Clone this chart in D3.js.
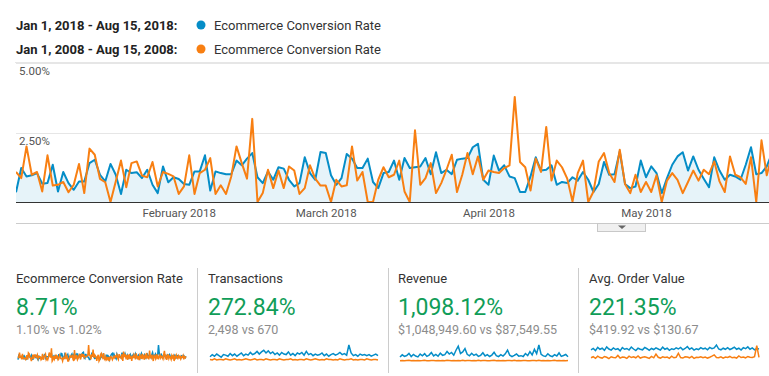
<!DOCTYPE html>
<html>
<head>
<meta charset="utf-8">
<script src="https://cdn.jsdelivr.net/npm/d3@7"></script>
<style>
body { margin: 0; background: #fff; font-family: Roboto, Arial, sans-serif; }
</style>
</head>
<body>
<svg id="chart" width="769" height="376"></svg>
<script>
// daily ecommerce conversion rate (%), Jan 1 2018 onward (visible part of the chart)
var convThisYear = [0.35,1.22,0.92,0.96,1.04,0.66,0.68,1.34,0.38,1.08,0.68,0.44,0.74,0.74,1.40,1.52,0.98,0.74,1.37,0.98,
  0.29,1.16,1.04,1.07,0.86,1.16,0.62,0.32,1.28,0.71,0.89,0.83,0.65,0.62,1.10,1.10,1.68,
  0.41,1.10,1.04,1.00,1.00,1.49,1.32,1.56,1.76,0.89,0.68,1.10,0.80,1.25,1.20,0.80,0.56,0.68,1.61,1.04,0.80,1.80,1.76,
  0.96,0.62,0.86,1.73,1.56,1.22,1.22,1.56,0.72,0.50,1.04,1.08,1.49,
  0.80,1.58,1.22,1.25,1.28,1.58,1.00,1.79,1.04,1.16,1.00,1.52,1.56,1.58,1.97,2.09,0.80,0.62,1.67,1.13,1.32,0.92,0.86,
  0.36,0.36,0.92,1.61,1.13,1.16,1.32,0.62,0.72,0.68,0.89,0.77,1.08,
  0.80,0.36,0.65,1.44,0.98,1.00,1.82,0.65,0.50,0.56,1.49,0.89,1.28,1.04,0.32,0.86,1.34,1.64,1.79,1.13,1.64,1.16,0.84,
  0.53,1.61,1.13,0.80,0.98,0.92,0.80,1.34,1.97,1.00,1.04,1.28,1.76];
var convLastYear = [1.08,0.86,2.00,0.98,1.08,0.38,1.68,0.59,0.62,0.72,0.35,0.62,1.37,0.32,1.92,1.70,0.83,0.71,0.00,0.74,
  1.49,0.53,1.40,1.46,0.95,0.89,1.44,0.56,1.08,1.01,0.92,0.29,0.56,1.68,0.29,1.04,1.16,
  1.58,0.29,0.60,0.29,0.92,2.00,1.40,0.84,2.99,0.00,0.32,1.16,0.50,1.13,0.50,1.28,1.13,0.29,0.50,1.32,0.84,0.59,0.59,
  0.00,0.80,0.56,0.60,2.00,0.77,1.08,0.00,0.00,0.80,1.25,0.89,0.98,
  1.49,0.38,0.00,2.58,0.62,0.86,1.40,0.32,0.68,1.16,1.70,0.36,0.98,1.76,1.00,1.64,0.80,1.13,1.08,1.04,1.22,1.32,3.78,
  1.44,1.25,0.41,1.56,1.08,2.70,0.77,1.49,1.25,0.84,0.02,1.04,1.49,
  0.00,0.38,1.46,1.76,1.04,0.72,1.88,0.65,0.32,0.98,0.36,0.72,0.36,0.96,0.00,0.77,1.04,0.80,0.32,0.72,1.13,0.77,1.16,
  1.00,1.46,0.74,0.36,1.64,0.98,0.89,0.65,1.61,0.00,2.22,0.96,1.70];
// rest of the period (for the scorecard sparkline)
var convThisYearRest = [1.2,0.9,1.4,1.0,0.7,1.3,1.6,1.1,0.8,1.2,1.5,0.9,1.0,1.7,1.2,0.8,1.1,1.4,1.0,0.6,
  1.3,1.8,1.2,0.9,1.1,1.5,1.0,0.7,1.2,1.6,1.3,0.9,1.4,1.1,0.8,1.5,2.0,1.2,1.0,1.4,
  1.7,1.1,0.9,1.6,3.8,1.9,1.2,1.0,1.5,1.1,0.8,1.3,1.6,1.0,0.9,1.2,1.4,0.8,1.1,1.5,
  1.0,0.7,1.3,1.2,0.9,1.1,1.4,1.0,0.8,1.2,1.3,0.9,1.1,1.0,0.7,1.2,1.1,0.9,1.3,1.0,0.8,1.1];
var convLastYearRest = [0.9,1.4,0.3,1.2,0.8,1.6,0.5,1.1,0.0,1.3,0.7,1.5,1.0,0.4,1.8,0.9,0.6,1.2,0.2,1.4,
  1.0,0.5,1.7,0.8,1.1,0.3,1.3,0.9,1.9,0.6,1.2,0.4,2.5,1.0,0.7,1.5,0.9,0.0,1.3,1.1,
  0.6,1.6,0.8,1.2,0.4,1.0,1.4,0.7,1.1,0.9,0.5,1.5,2.4,0.8,1.2,0.3,1.0,1.6,0.6,1.1,
  0.9,0.4,1.3,0.8,1.2,0.0,1.0,0.7,1.4,0.9,0.6,1.2,0.8,1.1,0.5,1.0,0.9,1.3,0.4,1.0,0.8,1.1];

// sparkline series, sampled every 3 days
var transThisYear = [8,12,9,13,10,7,12,11,9,14, 10,13,9,12,15,10,13,11,16,12,
  14,18,13,17,20,15,19,14,17,12, 15,11,16,13,12,17,11,14,10,15,
  13,16,11,18,12,14,10,13,11,12, 15,10,13,9,12,14,11,13,16,12,
  14,11,30,15,10,12,9,13,11,12, 10,12,9,11,13,10];
var transLastYear = [3,2,4,2,3,3,2,4,3,2, 3,4,2,3,2,3,4,3,2,3,
  4,2,3,3,2,4,3,2,3,3, 2,4,3,2,3,3,4,2,3,2,
  3,3,2,4,3,2,3,4,3,2, 3,2,4,3,3,2,3,2,4,3,
  2,3,3,4,2,3,2,3,3,2, 4,3,2,3,3,2];
var revThisYear = [3.4,5.2,3.9,4.6,6.4,3.8,5.6,4.2,3.5,5.8, 4.4,6.2,3.9,5.0,7.1,4.3,5.6,4.0,6.6,4.8,
  5.4,8.0,5.9,7.2,4.9,9.1,12.5,6.3,7.7,10.4, 5.6,4.4,6.5,4.7,5.8,3.9,4.8,6.9,4.2,5.3,
  3.8,5.0,7.4,4.5,3.7,5.4,4.1,6.0,9.2,4.9, 3.6,4.7,5.9,4.1,4.5,3.8,6.3,4.6,7.9,5.1,
  9.8,6.2,13.5,5.6,4.3,3.9,6.1,4.4,3.7,5.3, 4.2,6.8,3.9,4.6,5.5,3.6];
var revLastYear = [0.3,0.5,0.2,0.4,0.6,0.3,0.4,0.2,0.5,0.3, 0.4,0.6,0.3,0.2,0.5,0.4,0.3,0.5,0.2,0.4,
  0.3,0.6,0.4,0.2,0.5,0.3,0.4,0.3,0.6,0.2, 0.4,0.5,0.3,0.4,0.2,0.6,0.3,0.4,0.5,0.3,
  0.2,0.4,0.6,0.3,0.5,0.3,0.4,0.2,0.5,0.4, 0.3,0.6,0.2,0.4,0.3,0.5,0.4,0.3,0.2,0.5,
  0.4,0.3,0.6,0.3,0.4,0.2,0.5,0.3,0.4,0.6, 0.3,0.4,0.2,0.5,0.3,0.4];
var aovThisYear = [420,470,390,510,440,480,400,530,450,410, 490,430,460,380,500,440,470,410,520,450,
  390,480,440,420,510,460,400,470,430,490, 450,410,520,440,480,400,460,430,490,450,
  510,420,470,540,440,490,410,460,430,500, 450,480,420,510,460,490,600,450,420,480,
  440,500,430,470,520,440,480,410,500,460, 530,440,490,420,470,450];
var aovLastYear = [120,160,100,180,130,110,170,140,90,160, 130,120,210,110,150,140,100,180,130,160,
  120,190,110,140,160,130,100,170,120,260, 140,110,160,130,150,100,180,120,140,290,
  130,110,160,150,120,170,100,140,130,160, 120,150,110,140,180,230,130,120,160,110,
  150,130,170,120,140,110,190,130,150,120, 170,140,130,160,580,140];

var rangeLabels = ["Jan 1, 2018 - Aug 15, 2018:", "Jan 1, 2008 - Aug 15, 2008:"];
var metricName = "Ecommerce Conversion Rate";
var yTicks = [2.5, 5];
var monthTicks = [new Date(2018,1,1), new Date(2018,2,1), new Date(2018,3,1), new Date(2018,4,1)];

var cardTitles = ["Ecommerce Conversion Rate", "Transactions", "Revenue", "Avg. Order Value"];
var cardChanges = ["8.71%", "272.84%", "1,098.12%", "221.35%"];
var cardCompare = ["1.10% vs 1.02%", "2,498 vs 670", "$1,048,949.60 vs $87,549.55", "$419.92 vs $130.67"];

var blue = "#058dc7", orange = "#f87f12";
var svg = d3.select("#chart");

// ---- legend ----
var leg = svg.selectAll("g.leg").data(rangeLabels).enter().append("g")
  .attr("transform", function(d, i) { return "translate(0," + (30 + i * 24) + ")"; });
leg.append("text").attr("x", 16).attr("y", 0).text(function(d) { return d; })
  .style("font-size", "13px").style("font-weight", "bold").attr("fill", "#222");
leg.append("circle").attr("cx", 201).attr("cy", -5).attr("r", 4.5)
  .attr("fill", function(d, i) { return i == 0 ? blue : orange; });
leg.append("text").attr("x", 214).attr("y", 0).text(metricName)
  .style("font-size", "13px").attr("fill", "#333");

// ---- main chart ----
var start = new Date(2018, 0, 1);
var toPoints = function(arr) {
  return arr.map(function(v, i) { return {date: d3.timeDay.offset(start, i), v: v}; });
};
var ptsA = toPoints(convThisYear), ptsB = toPoints(convLastYear);

var x = d3.scaleTime().domain([start, d3.timeDay.offset(start, 144)]).range([16, 16 + 144 * 5.25]);
var y = d3.scaleLinear().domain([0, 5]).range([202, 63]);

svg.append("clipPath").attr("id", "clip").append("rect")
  .attr("x", 16).attr("y", 0).attr("width", 753).attr("height", 230);

svg.append("line").attr("x1", 15).attr("x2", 769).attr("y1", 62.5).attr("y2", 62.5).attr("stroke", "#e6e6e6");
svg.selectAll("line.grid").data(yTicks).enter().append("line")
  .attr("x1", 16).attr("x2", 769)
  .attr("y1", function(d) { return Math.round(y(d)) + 0.5; })
  .attr("y2", function(d) { return Math.round(y(d)) + 0.5; })
  .attr("stroke", "#e6e6e6");
svg.selectAll("text.ylab").data(yTicks).enter().append("text")
  .attr("x", 19).attr("y", function(d) { return y(d) + 12; })
  .text(function(d) { return d3.format(".2f")(d) + "%"; })
  .style("font-size", "11.5px").attr("fill", "#555");

var plot = svg.append("g").attr("clip-path", "url(#clip)");
plot.append("path").datum(ptsA)
  .attr("d", d3.area().x(function(d) { return x(d.date); }).y0(y(0)).y1(function(d) { return y(d.v); }))
  .attr("fill", "#e6f3f9");
var line = d3.line().x(function(d) { return x(d.date); }).y(function(d) { return y(d.v); });
plot.append("path").datum(ptsA).attr("d", line)
  .attr("fill", "none").attr("stroke", blue).attr("stroke-width", 2).attr("stroke-linejoin", "round");
plot.append("path").datum(ptsB).attr("d", line)
  .attr("fill", "none").attr("stroke", orange).attr("stroke-width", 2).attr("stroke-linejoin", "round");

svg.append("line").attr("x1", 16).attr("x2", 769).attr("y1", 202.5).attr("y2", 202.5)
  .attr("stroke", "#333").attr("stroke-width", 1.2);

var xAxis = svg.append("g").attr("transform", "translate(0,202)")
  .call(d3.axisBottom(x).tickValues(monthTicks).tickFormat(d3.timeFormat("%B %Y")).tickSize(0).tickPadding(7));
xAxis.select(".domain").remove();
xAxis.selectAll("text").style("font-size", "11.5px").style("font-family", "Roboto, Arial, sans-serif").attr("fill", "#555");

svg.append("line").attr("x1", 16).attr("x2", 769).attr("y1", 223.5).attr("y2", 223.5).attr("stroke", "#ccc");
svg.append("rect").attr("x", 597.5).attr("y", 223.5).attr("width", 48).attr("height", 8)
  .attr("fill", "#f0f0f0").attr("stroke", "#c8c8c8");
svg.append("path").attr("d", "M618,225.5L626,225.5L622,229Z").attr("fill", "#666");

// ---- scorecards ----
var cardX = [16, 208, 398, 589];
var sparkData = [
  [convThisYear.concat(convThisYearRest), convLastYear.concat(convLastYearRest)],
  [transThisYear, transLastYear],
  [revThisYear, revLastYear],
  [aovThisYear, aovLastYear]
];

[197, 388, 578].forEach(function(dx) {
  svg.append("line").attr("x1", dx + 0.5).attr("x2", dx + 0.5).attr("y1", 268).attr("y2", 373).attr("stroke", "#ccc");
});

var cards = svg.selectAll("g.card").data(cardTitles).enter().append("g")
  .attr("transform", function(d, i) { return "translate(" + cardX[i] + ",0)"; });
cards.append("text").attr("y", 283).text(function(d) { return d; })
  .style("font-size", "13px").attr("fill", "#333");
cards.append("text").attr("y", 315).text(function(d, i) { return cardChanges[i]; })
  .style("font-size", "23px").attr("fill", "#109d58");
cards.append("text").attr("y", 334).text(function(d, i) { return cardCompare[i]; })
  .style("font-size", "12.5px").attr("fill", "#8c8c8c");

cards.each(function(d, i) {
  var series = sparkData[i];
  var n = series[0].length;
  var sx = d3.scaleLinear().domain([0, n - 1]).range([2, 170]);
  var sy = d3.scaleLinear().domain([0, d3.max(series[0].concat(series[1]))]).range([361, 345]);
  var sl = d3.line().x(function(v, j) { return sx(j); }).y(function(v) { return sy(v); });
  var g = d3.select(this);
  g.append("path").datum(series[0]).attr("d", sl).attr("fill", "none")
    .attr("stroke", blue).attr("stroke-width", 1.5);
  g.append("path").datum(series[1]).attr("d", sl).attr("fill", "none")
    .attr("stroke", orange).attr("stroke-width", 1.5);
});
</script>
</body>
</html>
